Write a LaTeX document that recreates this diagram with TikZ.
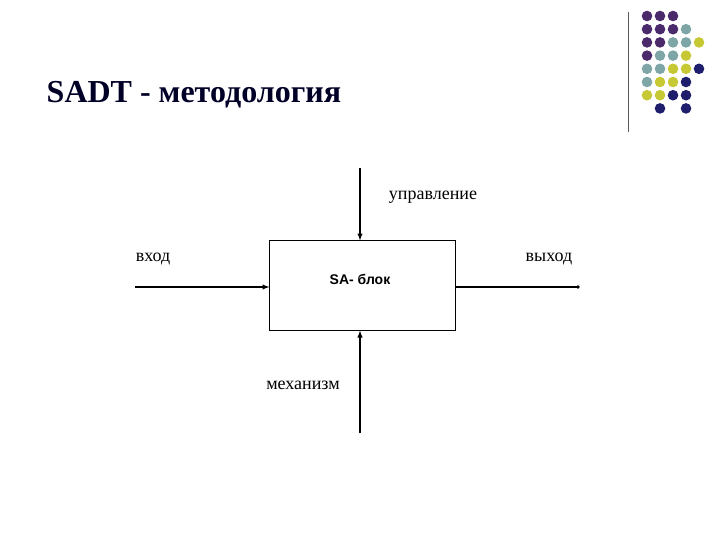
\documentclass[tikz,border=0pt]{standalone}
\usepackage{fontspec}
\setmainfont{Liberation Serif}
\newfontfamily\blockfont{Liberation Sans}
\usetikzlibrary{positioning,arrows}
\definecolor{dotP}{HTML}{4A2A6A}
\definecolor{dotT}{HTML}{7FA6A6}
\definecolor{dotY}{HTML}{C6C834}
\definecolor{dotN}{HTML}{1E1E6C}
\begin{document}
\begin{tikzpicture}[x=0.75pt,y=-0.75pt,
    flow/.style={-latex, thick},
    lbl/.style={font=\fontsize{13.5}{16}\selectfont}
]
\useasboundingbox (0,0) rectangle (720,540);

% decoration
\draw[gray!70!black, semithick] (628,12) -- (628,132);
\foreach \c/\r/\col in {0/0/dotP,1/0/dotP,2/0/dotP,
  0/1/dotP,1/1/dotP,2/1/dotP,3/1/dotT,
  0/2/dotP,1/2/dotP,2/2/dotT,3/2/dotT,4/2/dotY,
  0/3/dotP,1/3/dotT,2/3/dotT,3/3/dotY,
  0/4/dotT,1/4/dotT,2/4/dotY,3/4/dotY,4/4/dotN,
  0/5/dotT,1/5/dotY,2/5/dotY,3/5/dotN,
  0/6/dotY,1/6/dotY,2/6/dotN,3/6/dotN,
  1/7/dotN,3/7/dotN}
  \fill[\col] (647+13*\c,16+13.2*\r) circle (5.3);

\node[anchor=base west, font=\fontsize{24}{28}\selectfont\bfseries, text=black!85!blue] (title) at (42,102) {SADT - методология};

% diagram
\node[draw, semithick, minimum width=139pt, minimum height=67pt, inner sep=0pt] (block) at (362.5,285.5) {};
\node[font=\blockfont\bfseries\fontsize{10.5}{12}\selectfont] (blabel) at (360,279) {SA- блок};

\coordinate (in) at (135,287);
\coordinate (out) at (578,287);
\coordinate (ctrl) at (360,168);
\coordinate (mech) at (360,433);

\draw[flow] (in) -- (in -| block.west);
\draw[thick] (out -| block.east) -- (out);
\fill (out) circle (1.8);
\draw[flow] (ctrl) -- (ctrl |- block.north);
\draw[flow] (mech) -- (mech |- block.south);

\node[lbl] (inlbl) at (153,259) {вход};
\node[lbl] (outlbl) at (549,259) {выход};
\node[lbl] (ctrllbl) at (433,197) {управление};
\node[lbl] (mechlbl) at (303,385) {механизм};

\end{tikzpicture}
\end{document}
